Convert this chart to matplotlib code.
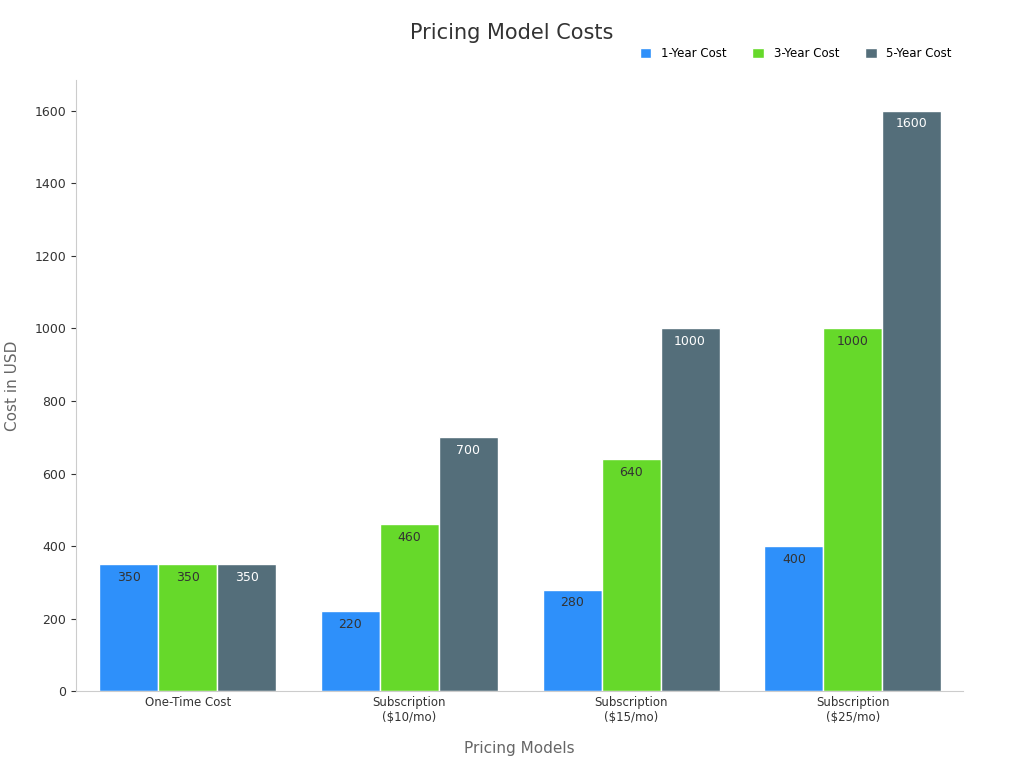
import matplotlib
matplotlib.use("Agg")
from matplotlib import pyplot as plt
import numpy as np

categories = ["One-Time Cost", "Subscription\n($10/mo)", "Subscription\n($15/mo)", "Subscription\n($25/mo)"]
series_names = ["1-Year Cost", "3-Year Cost", "5-Year Cost"]
year1 = [350, 220, 280, 400]
year3 = [350, 460, 640, 1000]
year5 = [350, 700, 1000, 1600]

colori = ["#2e90fa", "#66d92a", "#546e7a"]
text_col = ["#333333", "#333333", "white"]

fig = plt.figure(figsize=(10.24, 7.68), dpi=100)
ax = fig.add_axes([0.074, 0.1, 0.866, 0.796])

x = np.arange(len(categories))
w = 0.266
for i, vals in enumerate([year1, year3, year5]):
    bars = ax.bar(x + (i - 1) * w, vals, w, color=colori[i], edgecolor="white",
                  linewidth=1, label=series_names[i])
    for b, v in zip(bars, vals):
        ax.text(b.get_x() + b.get_width() / 2, v - 18, str(v), ha="center", va="top",
                fontsize=9, color=text_col[i])

ax.set_xlim(-0.505, 3.495)
ax.set_ylim(0, 1685)
ax.set_xticks(x)
ax.set_xticklabels(categories, fontsize=8.5, color="#333333")
ax.set_yticks(range(0, 1601, 200))
ax.tick_params(axis="y", labelsize=9, colors="#333333")
ax.tick_params(axis="x", length=0)
for s in ["top", "right"]:
    ax.spines[s].set_visible(False)
ax.spines["left"].set_color("#cccccc")
ax.spines["bottom"].set_color("#cccccc")
ax.set_xlabel("Pricing Models", fontsize=11, color="#666666", labelpad=12)
ax.set_ylabel("Cost in USD", fontsize=11, color="#666666", labelpad=10)
fig.suptitle("Pricing Model Costs", fontsize=15, color="#333333", y=0.97)
ax.legend(loc="lower right", bbox_to_anchor=(1.0, 1.0), ncol=3, frameon=False,
          fontsize=8.5, handlelength=1.0, handleheight=1.0, columnspacing=2.2)
ax.get_legend().set_bbox_to_anchor((1.0, 1.015))

plt.savefig("out.png")
